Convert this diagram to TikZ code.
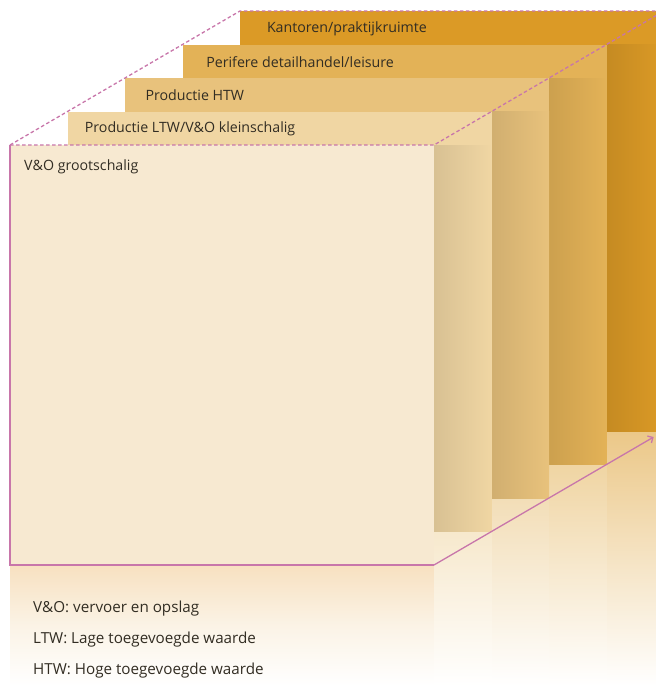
\documentclass[tikz,border=0pt]{standalone}
\usepackage{fontspec}
\setmainfont{Open Sans}
\usetikzlibrary{arrows.meta, positioning, calc}

\definecolor{frontcol}{RGB}{247,233,209}
\definecolor{ltwcol}{RGB}{240,214,163}
\definecolor{htwcol}{RGB}{232,194,124}
\definecolor{pericol}{RGB}{227,178,87}
\definecolor{kantcol}{RGB}{219,154,38}
\definecolor{edgecol}{RGB}{200,118,170}
\definecolor{textcol}{RGB}{50,45,35}

\begin{document}
\begin{tikzpicture}[x=1pt, y=-1pt,
            panel/.style={minimum width=424pt, minimum height=420pt, inner sep=0pt,
                          outer sep=0pt, anchor=north west},
            panel label/.style={font=\fontsize{14.2}{16}\selectfont, text=textcol,
                                inner sep=0pt, anchor=west},
            legend/.style={font=\fontsize{15.2}{17}\selectfont, text=textcol,
                           inner sep=0pt, anchor=west},
            cube edge/.style={edgecol, line width=1.3pt},
            cube dash/.style={cube edge, dash pattern=on 3.5pt off 2.5pt}]

            \useasboundingbox (0,0) rectangle (656,686);
            \clip (0,0) rectangle (656,686);

            % fading reflection under the front panel
            \shade[top color=frontcol!92!orange, bottom color=white, middle color=frontcol!55!white]
                (10,565) rectangle (656,686);

            % panels, back to front
            \foreach \k/\col/\dy/\txt in {5/kantcol/17.5/Kantoren\slash praktijkruimte,
                                          4/pericol/17.5/Perifere detailhandel\slash leisure,
                                          3/htwcol/17.5/Productie HTW,
                                          2/ltwcol/17.5/Productie LTW\slash V\&O kleinschalig,
                                          1/frontcol/22/V\&O grootschalig} {
                \pgfmathsetmacro{\px}{10+(\k-1)*57.5}
                \pgfmathsetmacro{\py}{145-(\k-1)*33.5}
                \ifnum\k>1
                    % reflection below the visible strip
                    \shade[top color=\col!55!white, bottom color=white]
                        (\px+366.5,\py+420) rectangle (\px+424,686);
                \fi
                \node[panel, fill=\col] (p\k) at (\px,\py) {};
                \ifnum\k>1
                    % shadow on the visible side strip
                    \shade[left color=\col!90!black, right color=\col]
                        (\px+366.5,\py+33.5) rectangle (\px+424,\py+420);
                \fi
                \node[panel label] (t\k) at ([xshift={14+(\k-1)*3.2}, yshift=-\dy]p\k.north west) {\txt};
            }

            % cube edges
            \draw[cube dash] (p1.north west) -- (p5.north west) -- (p5.north east);
            \draw[cube dash] (p1.north west) -- (p1.north east) -- (p5.north east);
            \draw[cube edge] (p1.north west) -- (p1.south west) -- (p1.south east);
            \coordinate (arrowend) at ($(p1.south east)!0.955!(p5.south east)$);
            \draw[cube edge, -{Straight Barb[length=4pt, width=8pt]}] (p1.south east) -- (arrowend);

            % legend
            \node[legend] (l1) at (33,609) {V\&O: vervoer en opslag};
            \node[legend, below=31pt of l1.west, anchor=west] (l2) {LTW: Lage toegevoegde waarde};
            \node[legend, below=31pt of l2.west, anchor=west] (l3) {HTW: Hoge toegevoegde waarde};
        \end{tikzpicture}
\end{document}
